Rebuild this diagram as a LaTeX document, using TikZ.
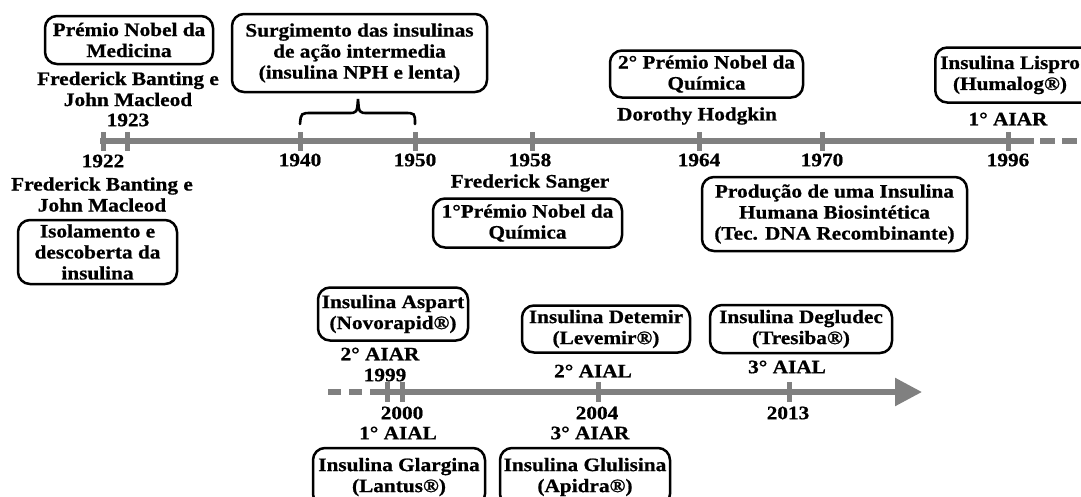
\documentclass[tikz,border=0pt]{standalone}
\usepackage{fontspec}
\setmainfont{Liberation Serif}[FakeStretch=1.12, BoldFont={Liberation Serif Bold}, BoldFeatures={FakeBold=0.8}]
\usetikzlibrary{arrows.meta}
\definecolor{tlgray}{HTML}{808080}
\tikzset{
  every node/.style={font=\bfseries\fontsize{19}{21}\selectfont},
  box/.style={draw, line width=2.5pt, rounded corners=12pt, align=center, inner sep=0pt},
  lbl/.style={align=center, inner sep=0pt},
  axisline/.style={line width=5.5pt, draw=tlgray},
  dashline/.style={line width=5.5pt, draw=tlgray, dash pattern=on 15pt off 7pt},
  tickline/.style={line width=5pt, draw=tlgray},
  bracel/.style={line width=2.6pt, line cap=round},
}
\begin{document}
\begin{tikzpicture}[x=1pt,y=-1pt]
\useasboundingbox (0,0) rectangle (1081,496);
\clip (0,0) rectangle (1081,496);
% ---------- top timeline ----------
\coordinate (a0) at (100,141);
\coordinate (a1) at (1034,141);
\coordinate (d1) at (1040,141);
\coordinate (d2) at (1085,141);
\draw[axisline] (a0) -- (a1);
\draw[dashline] (d1) -- (d2);
\foreach \n/\x in {1922/103,1923/127,1940/300,1950/415,1958/532,1964/699,1970/822,1996/1008}{
  \coordinate (t\n) at (\x,141);
  \draw[tickline] (\x,132) -- (\x,151);
}
% year labels
\node[lbl] (y1922) at (103,161) {1922};
\node[lbl] (y1923) at (128,120) {1923};
\node[lbl] (y1940) at (300,160) {1940};
\node[lbl] (y1950) at (415,160) {1950};
\node[lbl] (y1958) at (530,160) {1958};
\node[lbl] (y1964) at (699,160) {1964};
\node[lbl] (y1970) at (822,160) {1970};
\node[lbl] (y1996) at (1008,160) {1996};
% above
\node[box, minimum width=168pt, minimum height=48pt] (bmed) at (129,40) {Prémio Nobel da\\Medicina};
\node[lbl] (fb1) at (128,89) {Frederick Banting e\\John Macleod};
\node[box, minimum width=255pt, minimum height=78pt] (bsurg) at (359.5,53) {Surgimento das insulinas\\de ação intermedia\\(insulina NPH e lenta)};
\draw[bracel] (t1940 |- 0,124) .. controls (301,113) .. (312,113) -- (348,113)
   .. controls (357,113) .. (358,99) .. controls (359,113) .. (368,113) -- (404,113)
   .. controls (415,113) .. (t1950 |- 0,124);
\node[box, minimum width=193pt, minimum height=47pt] (bq2) at (706.5,74) {2° Prémio Nobel da\\Química};
\node[lbl] (dh) at (697,116) {Dorothy Hodgkin};
\node[lbl] (tlis) at (1010,75) {Insulina Lispro\\(Humalog®)};
\node[box, minimum width=160pt, minimum height=55pt, anchor=west] (blis) at (934,75) {};
\node[lbl] (aiar1) at (1008,119) {1° AIAR};
% below
\node[lbl] (fb2) at (102,194.5) {Frederick Banting e\\John Macleod};
\node[box, minimum width=159pt, minimum height=64pt] (biso) at (97.5,252) {Isolamento e\\descoberta da\\insulina};
\node[lbl] (fs) at (530,183) {Frederick Sanger};
\node[box, minimum width=189pt, minimum height=49pt] (bq1) at (527.5,223) {1°Prémio Nobel da\\Química};
\node[box, minimum width=265pt, minimum height=74pt] (bprod) at (834.5,214) {Produção de uma Insulina\\Humana Biosintética\\(Tec. DNA Recombinante)};
% ---------- bottom timeline ----------
\coordinate (b0) at (328,392);
\coordinate (b1) at (383,392);
\coordinate (b2) at (922,392);
\draw[dashline, dash pattern=on 13pt off 8pt] (b0) -- (b1);
\draw[axisline, -{Triangle[length=27pt,width=27pt]}] (b1) -- (b2);
\foreach \n/\x in {1999/387,2000/402,2004/598,2013/789}{
  \coordinate (t\n) at (\x,392);
  \draw[tickline] (\x,382) -- (\x,402);
}
\node[box, minimum width=150pt, minimum height=53pt] (basp) at (393,314) {Insulina Aspart\\(Novorapid®)};
\node[lbl] (aiar2) at (380,354) {2° AIAR};
\node[lbl] (y1999) at (385,375) {1999};
\node[box, minimum width=168pt, minimum height=47pt] (bdet) at (606,329) {Insulina Detemir\\(Levemir®)};
\node[lbl] (aial2) at (593,371) {2° AIAL};
\node[box, minimum width=182pt, minimum height=48pt] (bdeg) at (801,329) {Insulina Degludec\\(Tresiba®)};
\node[lbl] (aial3) at (787,367) {3° AIAL};
\node[lbl] (y2000) at (402,413) {2000};
\node[lbl] (aial1) at (398,433) {1° AIAL};
\node[lbl] (y2004) at (597,413) {2004};
\node[lbl] (aiar3) at (590,433) {3° AIAR};
\node[lbl] (y2013) at (788,413) {2013};
\node[box, minimum width=172pt, minimum height=58pt] (bgla) at (399,477) {Insulina Glargina\\(Lantus®)};
\node[box, minimum width=170pt, minimum height=58pt] (bglu) at (585,477) {Insulina Glulisina\\(Apidra®)};
\end{tikzpicture}
\end{document}
